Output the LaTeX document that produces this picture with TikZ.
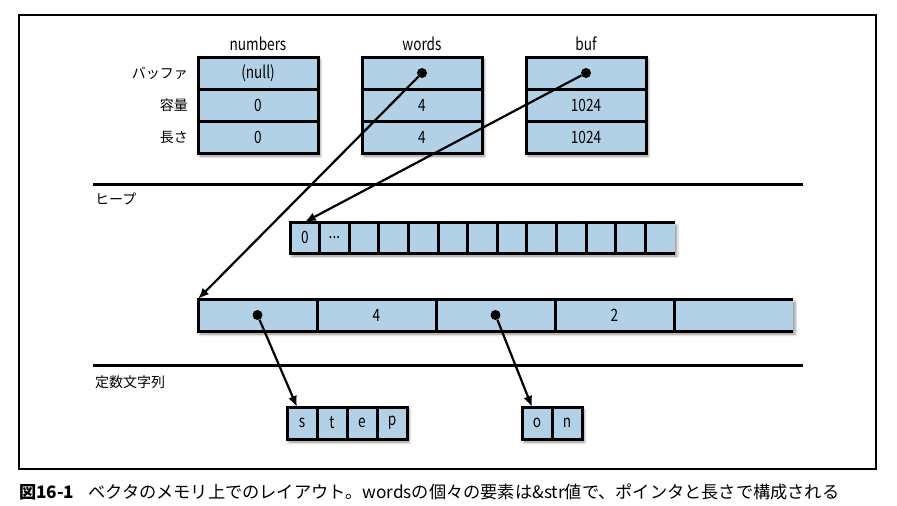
\documentclass[tikz,border=0pt]{standalone}
\usepackage{fontspec}
\setmainfont{Noto Sans CJK JP}
\newfontfamily\narrowfont[FakeStretch=0.8]{Noto Sans CJK JP}
\usetikzlibrary{positioning,arrows.meta,shadows.blur,fit}
\pgfdeclarelayer{background layer}
\pgfsetlayers{background layer,main}
\definecolor{cellblue}{RGB}{178,209,230}
\newcommand{\lblfont}{\narrowfont\fontsize{17}{20}\selectfont}
\newcommand{\jpfont}{\fontsize{14}{17}\selectfont}

\tikzset{
  cell/.style={fill=cellblue, inner sep=0pt, outer sep=0pt, minimum height=32pt, font=\lblfont},
  box/.style={cell, draw=black, line width=3pt, line join=miter},
  edge/.style={line width=3pt, line join=miter},
  shadowed/.style={fill=cellblue, inner sep=0pt, blur shadow={shadow xshift=2pt, shadow yshift=-3pt, shadow blur radius=3pt, shadow opacity=45}},
  title/.style={inner sep=0pt, font=\lblfont},
  jp/.style={inner sep=0pt, font=\jpfont},
  dot/.style={circle, fill=black, inner sep=0pt, minimum size=10pt},
  ptr/.style={line width=2.2pt, -{Latex[length=11pt,width=9pt]}},
}

\begin{document}
\begin{tikzpicture}[x=1pt,y=-1pt]
  \useasboundingbox (0,0) rectangle (897,506);
  \draw[line width=1.2pt] (19,15) rectangle (876,469);

  % vectors on the stack
  \node[box, minimum width=120pt] (n1) at (258,73) {(null)};
  \node[box, minimum width=120pt, below=0pt of n1] (n2) {0};
  \node[box, minimum width=120pt, below=0pt of n2] (n3) {0};
  \node[title, above=6pt of n1] {numbers};
  \node[jp, left=10pt of n1] {バッファ};
  \node[jp, left=10pt of n2] {容量};
  \node[jp, left=10pt of n3] {長さ};

  \node[box, minimum width=120pt] (w1) at (422,73) {};
  \node[box, minimum width=120pt, below=0pt of w1] (w2) {4};
  \node[box, minimum width=120pt, below=0pt of w2] (w3) {4};
  \node[title, above=6pt of w1] {words};
  \node[dot] (wp) at (w1) {};

  \node[box, minimum width=120pt] (b1) at (586,73) {};
  \node[box, minimum width=120pt, below=0pt of b1] (b2) {1024};
  \node[box, minimum width=120pt, below=0pt of b2] (b3) {1024};
  \node[title, above=6pt of b1] {buf};
  \node[dot] (bp) at (b1) {};

  % heap
  \draw[edge] (93,184) -- (803,184);
  \node[jp, anchor=west] at (95,199) {ヒープ};

  \node[cell, minimum width=29.6pt, minimum height=31pt] (h1) at (304.8,237.5) {0};
  \node[cell, minimum width=29.6pt, minimum height=31pt, right=0pt of h1] (h2) {...};
  \foreach \i [remember=\i as \j (initially 2)] in {3,...,13}
    \node[cell, minimum width=29.6pt, minimum height=31pt, right=0pt of h\j] (h\i) {};
  \draw[edge] (h13.north east) -- (h1.north west) -- (h1.south west) -- (h13.south east);
  \foreach \i in {1,...,12}
    \draw[edge] (h\i.north east) -- (h\i.south east);

  \node[cell, minimum width=119pt] (v1) at (257.5,315) {};
  \node[cell, minimum width=119pt, right=0pt of v1] (v2) {4};
  \node[cell, minimum width=119pt, right=0pt of v2] (v3) {};
  \node[cell, minimum width=119pt, right=0pt of v3] (v4) {2};
  \node[cell, minimum width=119pt, right=0pt of v4] (v5) {};
  \draw[edge] (v5.north east) -- (v1.north west) -- (v1.south west) -- (v5.south east);
  \foreach \i in {1,...,4}
    \draw[edge] (v\i.north east) -- (v\i.south east);
  \node[dot] (vp1) at (v1) {};
  \node[dot] (vp3) at (v3) {};

  % constant strings
  \draw[edge] (93,365) -- (803,365);
  \node[jp, anchor=west] at (95,382) {定数文字列};

  \node[box, minimum width=30pt] (s1) at (302,423) {s};
  \node[box, minimum width=30pt, right=0pt of s1] (s2) {t};
  \node[box, minimum width=30pt, right=0pt of s2] (s3) {e};
  \node[box, minimum width=30pt, right=0pt of s3] (s4) {p};

  \node[box, minimum width=30pt] (o1) at (537,423) {o};
  \node[box, minimum width=30pt, right=0pt of o1] (o2) {n};

  \begin{pgfonlayer}{background layer}
    \node[shadowed, fit=(n1)(n3)] {};
    \node[shadowed, fit=(w1)(w3)] {};
    \node[shadowed, fit=(b1)(b3)] {};
    \node[shadowed, fit=(h1)(h13)] {};
    \node[shadowed, fit=(v1)(v5)] {};
    \node[shadowed, fit=(s1)(s4)] {};
    \node[shadowed, fit=(o1)(o2)] {};
  \end{pgfonlayer}

  % pointers
  \draw[ptr] (wp) -- (v1.north west);
  \draw[ptr] (bp) -- (h1.north);
  \draw[ptr] (vp1) -- ([xshift=-5pt]s1.north);
  \draw[ptr] (vp3) -- ([xshift=-5pt]o1.north);

  \node[anchor=west, inner sep=0pt, font=\fontsize{17.2}{20}\selectfont] (cap) at (19,492)
    {\textbf{図16-1}\hspace{14pt}ベクタのメモリ上でのレイアウト。wordsの個々の要素は\&str値で、ポインタと長さで構成される};
\end{tikzpicture}
\end{document}
